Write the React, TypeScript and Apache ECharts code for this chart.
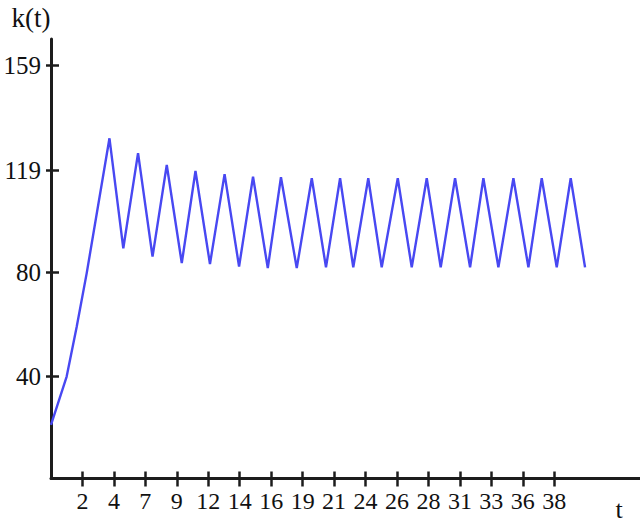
import React, { useEffect, useRef } from "react";
import * as echarts from "echarts";

// time values of the curve's vertices (start, rise, then alternating peaks / troughs)
const tValues: number[] = [
  0, 1.2, 1.97, 2.74, 4.48,
  5.54, 6.67, 7.78, 8.87, 10.02, 11.07, 12.18, 13.3, 14.41, 15.48,
  16.61, 17.62, 18.83, 19.98, 21.07, 22.15, 23.16, 24.31, 25.34, 26.57,
  27.64, 28.79, 29.86, 30.96, 32.11, 33.13, 34.28, 35.43, 36.58, 37.6,
  38.75, 39.82, 40.92,
];
const kValues: number[] = [
  21.5, 40.0, 59.1, 79.7, 131.2,
  89.1, 125.5, 85.9, 121.0, 83.4, 118.7, 83.1, 117.5, 82.1, 116.5,
  81.5, 116.3, 81.5, 115.9, 81.8, 115.9, 81.8, 115.9, 81.8, 115.9,
  81.8, 115.9, 81.8, 115.9, 81.8, 115.9, 81.8, 115.9, 81.8, 115.9,
  81.8, 115.9, 81.8,
];

// axis ticks
const xTickLabels: string[] = ["2", "4", "7", "9", "12", "14", "16", "19", "21", "24", "26", "28", "31", "33", "36", "38"];
const xTickStep = 2.41;
const yTickValues: number[] = [40, 80, 119, 159];

const X_MIN = 0;
const X_MAX = 45.13;
const Y_MIN = 1.0;
const Y_MAX = 169.2;

export default function App() {
  const ref = useRef<HTMLDivElement>(null);
  useEffect(() => {
    if (!ref.current) return;
    const chart = echarts.init(ref.current, undefined, { renderer: "svg" });
    const xTickPositions = xTickLabels.map((_, i) => +(xTickStep * (i + 1)).toFixed(4));
    const lineData = tValues.map((t, i) => [t, kValues[i]]);
    const axisColor = "#1c1c1c";
    const font = "Liberation Serif";
    const xLabelFor = (v: number) => {
      let best = 0;
      let bd = Infinity;
      xTickPositions.forEach((p, i) => {
        const d = Math.abs(p - v);
        if (d < bd) { bd = d; best = i; }
      });
      return xTickLabels[best];
    };
    chart.setOption({
      animation: false,
      backgroundColor: "#ffffff",
      grid: { left: 51, right: 0, top: 39, bottom: 44.5, containLabel: false, outerBoundsMode: "none" },
      xAxis: [
        {
          type: "value",
          min: X_MIN,
          max: X_MAX,
          splitLine: { show: false },
          axisLine: { show: true, lineStyle: { color: axisColor, width: 3 } },
          axisTick: { show: true, length: 8, inside: false, customValues: xTickPositions, lineStyle: { color: axisColor, width: 2.5 } },
          axisLabel: {
            show: true,
            customValues: xTickPositions,
            margin: 10,
            fontSize: 24,
            fontFamily: font,
            color: "#111",
            formatter: (v: number) => xLabelFor(v),
          },
        },
        {
          type: "value",
          position: "bottom",
          offset: 0,
          min: X_MIN,
          max: X_MAX,
          splitLine: { show: false },
          axisLine: { show: false },
          axisTick: { show: true, length: 7, inside: true, customValues: xTickPositions, lineStyle: { color: axisColor, width: 2.5 } },
          axisLabel: { show: false },
        },
      ],
      yAxis: [
        {
          type: "value",
          min: Y_MIN,
          max: Y_MAX,
          splitLine: { show: false },
          axisLine: { show: true, lineStyle: { color: axisColor, width: 3 } },
          axisTick: { show: true, length: 5, inside: false, customValues: yTickValues, lineStyle: { color: axisColor, width: 2.5 } },
          axisLabel: {
            show: true,
            customValues: yTickValues,
            margin: 10,
            fontSize: 25,
            fontFamily: font,
            color: "#111",
          },
        },
        {
          type: "value",
          position: "left",
          offset: 0,
          min: Y_MIN,
          max: Y_MAX,
          splitLine: { show: false },
          axisLine: { show: false },
          axisTick: { show: true, length: 8, inside: true, customValues: yTickValues, lineStyle: { color: axisColor, width: 2.5 } },
          axisLabel: { show: false },
        },
      ],
      series: [
        {
          type: "line",
          xAxisIndex: 0,
          yAxisIndex: 0,
          data: lineData,
          showSymbol: false,
          symbol: "none",
          lineStyle: { color: "#4848f2", width: 2.4 },
        },
      ],
      graphic: [
        {
          type: "text",
          x: 31,
          y: 18,
          style: { text: "k(t)", fontSize: 27, fontFamily: font, fill: "#111", textAlign: "center", textVerticalAlign: "middle" },
        },
        {
          type: "text",
          x: 619,
          y: 509,
          style: { text: "t", fontSize: 26, fontFamily: font, fill: "#111", textAlign: "center", textVerticalAlign: "middle" },
        },
      ],
    });
    return () => chart.dispose();
  }, []);
  return <div ref={ref} style={{ position: "absolute", left: 0, top: 0, width: 640, height: 523 }} />;
}
